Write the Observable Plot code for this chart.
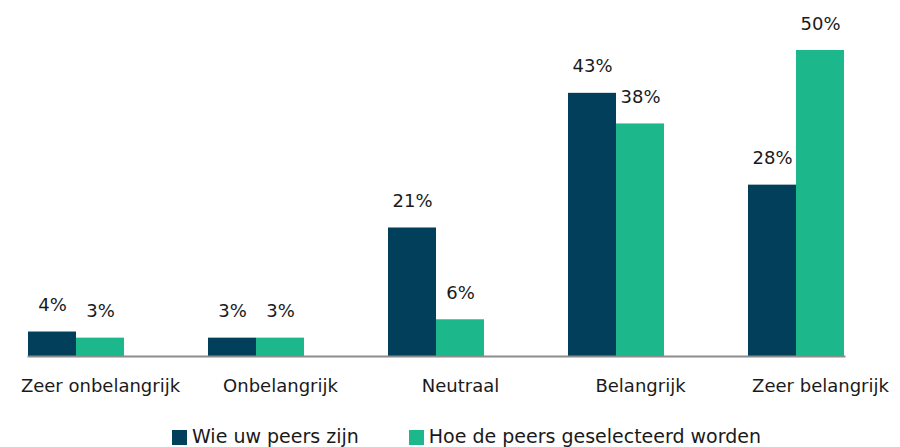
<!DOCTYPE html>
<html>
<head>
<meta charset="utf-8">
<script src="https://cdn.jsdelivr.net/npm/d3@7"></script>
<script src="https://cdn.jsdelivr.net/npm/@observablehq/plot@0.6"></script>
<style>
  html, body { margin: 0; padding: 0; background: #ffffff; }
  body { width: 900px; height: 447px; overflow: hidden; font-family: "DejaVu Sans", sans-serif; }
  #chart svg { display: block; }
  #legend { position: relative; height: 32px; display: flex; align-items: flex-start; padding-left: 172px; font-size: 19px; color: #1a1a1a; line-height: 1; }
  .item { display: flex; align-items: flex-start; margin-right: 50px; }
  .sw { width: 15px; height: 15px; margin-top: 15px; margin-right: 5px; }
  .lab { padding-top: 12px; white-space: nowrap; }
</style>
</head>
<body>
<div id="chart"></div>
<div id="legend"></div>
<script>
const categories = ["Zeer onbelangrijk", "Onbelangrijk", "Neutraal", "Belangrijk", "Zeer belangrijk"];
const series = ["Wie uw peers zijn", "Hoe de peers geselecteerd worden"];
const wieValues = [4, 3, 21, 43, 28];
const hoeValues = [3, 3, 6, 38, 50];
const colors = ["#023f5b", "#1cb78b"];

const data = categories.flatMap((c, i) => [
  {cat: c, s: series[0], v: wieValues[i]},
  {cat: c, s: series[1], v: hoeValues[i]}
]);

const chart = Plot.plot({
  width: 900,
  height: 415,
  marginLeft: 10,
  marginRight: 2,
  marginTop: 50,
  marginBottom: 59,
  style: {fontFamily: "DejaVu Sans, sans-serif", fontSize: "18px", color: "#1a1a1a", background: "#ffffff"},
  fx: {domain: categories, paddingInner: 0.4667, paddingOuter: 0.197, align: 0.2535},
  x: {domain: series, padding: 0, axis: null},
  y: {domain: [0, 50], axis: null},
  color: {domain: series, range: colors},
  marks: [
    Plot.barY(data, {fx: "cat", x: "s", y: "v", fill: "s", inset: 0}),
    Plot.frame({anchor: "bottom", facet: "super", stroke: "#8c8c8c", strokeWidth: 2}),
    Plot.text(data, {fx: "cat", x: "s", y: "v", text: d => d.v + "%", dy: -21, lineAnchor: "bottom", fontSize: 18, fill: "#1a1a1a"}),
    Plot.axisFx({anchor: "bottom", tickSize: 0, tickPadding: 23, dx: 24, fontSize: 18, label: null, fill: "#1a1a1a"})
  ]
});
document.getElementById("chart").appendChild(chart);

const legend = document.getElementById("legend");
series.forEach((s, i) => {
  const item = document.createElement("div");
  item.className = "item";
  const sw = document.createElement("div");
  sw.className = "sw";
  sw.style.background = colors[i];
  const lab = document.createElement("div");
  lab.className = "lab";
  lab.textContent = s;
  item.appendChild(sw);
  item.appendChild(lab);
  legend.appendChild(item);
});
</script>
</body>
</html>
